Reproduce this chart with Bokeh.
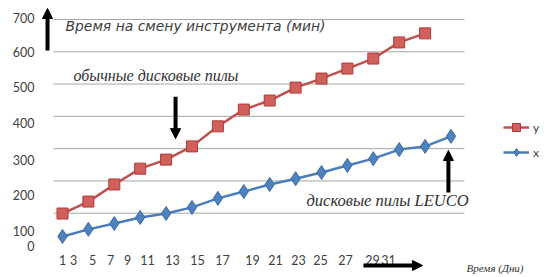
from bokeh.plotting import figure
from bokeh.models import (ColumnDataSource, Arrow, NormalHead,
                          Label, Legend, LegendItem, Range1d)
from bokeh.core.properties import value
from bokeh.embed import file_html
from bokeh.resources import INLINE

# ---- data ----
days_y = [1, 3, 5, 7, 9, 11, 13, 15, 17, 19, 21, 23, 25, 27, 29]
series_y = [99, 136, 189, 238, 266, 307, 369, 421, 449, 489, 517, 548, 579, 629, 657]
days_x = [1, 3, 5, 7, 9, 11, 13, 15, 17, 19, 21, 23, 25, 27, 29, 31]
series_x = [28, 50, 68, 87, 99, 118, 146, 167, 189, 207, 226, 248, 269, 297, 307, 338]
x_tick_labels = ["1", "3", "5", "7", "9", "11", "13", "15", "17", "19", "21", "23", "25", "27", "29", "31"]
y_tick_labels = ["700", "600", "500", "400", "300", "200", "100", "0"]
grid_values = [100, 200, 300, 400, 500, 600, 700]

title_text = "Время на смену инструмента (мин)"
note_regular = "обычные дисковые пилы"
note_leuco = "дисковые пилы  LEUCO"
x_title = "Время (Дни)"

# ---- layout constants (where the source image placed its labels) ----
x_label_pos = [1.0, 1.85, 3.32, 4.71, 6.02, 7.56, 9.49, 11.42, 13.36, 15.67, 17.45, 19.22, 20.92, 22.85, 24.94, 26.17]
y_label_pos = [706, 598, 492, 378, 266, 155, 46, -3]
x_label_row = -46      # value level of the day labels
y_label_col = -1.16    # day level of the right edge of the value labels

p = figure(width=552, height=277, output_backend="svg", toolbar_location=None,
           x_range=Range1d(-3.788, 38.838), y_range=Range1d(-99.1, 758.8),
           min_border=0, x_axis_type=None, y_axis_type=None)
p.outline_line_color = None
p.background_fill_color = "white"
p.border_fill_color = "white"

# horizontal grid lines, limited to the plot area
grid_src = ColumnDataSource(dict(y=grid_values, x0=[0.305] * len(grid_values), x1=[32.04] * len(grid_values)))
p.segment(x0="x0", x1="x1", y0="y", y1="y", source=grid_src, line_color="#A6A6A6", line_width=1)

# tick labels
p.text(x=x_label_pos, y=[x_label_row] * len(x_label_pos), text=x_tick_labels,
       text_font=value("Lato"), text_font_size="12.5px", text_color="#404040",
       text_align="center", text_baseline="middle")
p.text(x=[y_label_col] * len(y_label_pos), y=y_label_pos, text=y_tick_labels,
       text_font=value("Lato"), text_font_size="12.5px", text_color="#404040",
       text_align="right", text_baseline="middle")

src_y = ColumnDataSource(dict(d=days_y, v=series_y))
src_x = ColumnDataSource(dict(d=days_x, v=series_x))

ly = p.line("d", "v", source=src_y, line_color="#C0504D", line_width=2.5)
my = p.scatter("d", "v", source=src_y, marker="square", size=11,
               fill_color="#D0605C", line_color="#B03A37", line_width=1)
lx = p.line("d", "v", source=src_x, line_color="#4A7EBB", line_width=2.5)
mx = p.scatter("d", "v", source=src_x, marker="diamond", size=14,
               fill_color="#4F81BD", line_color="#3A6AA5", line_width=1)

legend = Legend(items=[LegendItem(label="y", renderers=[ly, my]),
                       LegendItem(label="x", renderers=[lx, mx])],
                location=(503, 115), glyph_width=26, glyph_height=20, spacing=5,
                padding=0, margin=0, label_standoff=4,
                label_text_font="Lato", label_text_font_size="12px", label_text_color="#404040",
                border_line_color=None, background_fill_alpha=0)
p.add_layout(legend, "center")

# arrows
def arrow(x0, y0, x1, y1):
    p.add_layout(Arrow(x_start=x0, y_start=y0, x_end=x1, y_end=y1, line_width=4, line_color="black",
                       end=NormalHead(size=10, fill_color="black", line_color="black")))

arrow(-0.158, 604, -0.158, 734)
arrow(9.73, 461, 9.73, 331)
arrow(30.8, 164, 30.8, 294)
arrow(24.24, -62, 28.8, -62)

p.add_layout(Label(x=1.23, y=681, text=title_text, text_font="DejaVu Sans", text_font_style="italic",
                   text_font_size="13.9px", text_color="#404040", text_baseline="middle"))
p.add_layout(Label(x=1.85, y=527, text=note_regular, text_font="Liberation Serif", text_font_style="italic",
                   text_font_size="16px", text_color="#303030", text_baseline="middle"))
p.add_layout(Label(x=19.84, y=139, text=note_leuco, text_font="Liberation Serif", text_font_style="italic",
                   text_font_size="16.5px", text_color="#303030", text_baseline="middle"))
p.add_layout(Label(x=32.2, y=-71, text=x_title, text_font="Liberation Serif", text_font_style="italic",
                   text_font_size="11px", text_color="#303030", text_baseline="middle"))

open("out.html", "w").write(file_html(p, INLINE))
